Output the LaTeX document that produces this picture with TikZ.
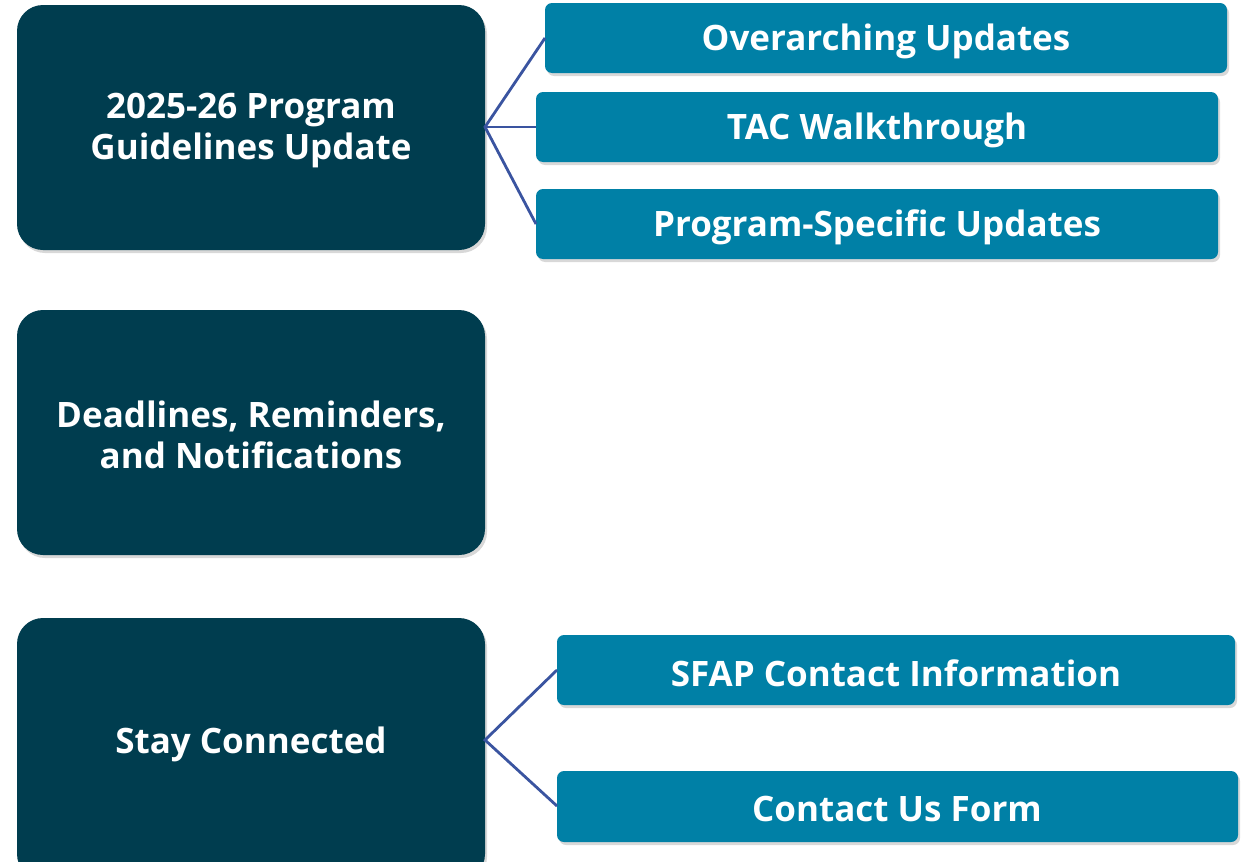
\documentclass[tikz,border=0pt]{standalone}
\usepackage{fontspec}
\setmainfont{Open Sans}
\usetikzlibrary{shadows}
\definecolor{darkbox}{HTML}{003D4F}
\definecolor{lightbox}{HTML}{0080A6}
\definecolor{conn}{HTML}{3A54A0}
\begin{document}
\begin{tikzpicture}[x=1pt,y=-1pt,
  mainbox/.style={fill=darkbox, rounded corners=26pt,
    drop shadow={opacity=0.3, shadow xshift=2pt, shadow yshift=-3pt}},
  subbox/.style={fill=lightbox, rounded corners=7pt,
    drop shadow={opacity=0.3, shadow xshift=2pt, shadow yshift=-3pt}},
  maintext/.style={text=white, font=\bfseries\fontsize{35}{41}\selectfont, align=center},
  subtext/.style={text=white, font=\bfseries\fontsize{35}{41}\selectfont},
  link/.style={draw=conn, line width=2.8pt}]
\useasboundingbox (0,0) rectangle (1245,862);
\fill[white] (0,0) rectangle (1245,862);
% main boxes
\path[mainbox] (17,5) rectangle (485,250);
\node[maintext] (m1) at (251,131) {2025-26 Program\\Guidelines Update};
\coordinate (m1e) at (485,127);
\path[mainbox] (17,310) rectangle (485,555);
\node[maintext] (m2) at (251,435) {Deadlines, Reminders,\\and Notifications};
\path[mainbox] (17,618) rectangle (485,880);
\node[maintext] (m3) at (251,744) {Stay Connected};
\coordinate (m3e) at (485,740);
% sub boxes
\path[subbox] (545,3) rectangle (1227,73);
\node[subtext] (s1) at (886,41) {Overarching Updates};
\coordinate (s1w) at (545,38);
\path[subbox] (536,92) rectangle (1218,162);
\node[subtext] (s2) at (877,130) {TAC Walkthrough};
\coordinate (s2w) at (536,127);
\path[subbox] (536,189) rectangle (1218,259);
\node[subtext] (s3) at (877,227) {Program-Specific Updates};
\coordinate (s3w) at (536,224);
\path[subbox] (557,635) rectangle (1235,705);
\node[subtext] (s4) at (896,673) {SFAP Contact Information};
\coordinate (s4w) at (557,670);
\path[subbox] (557,771) rectangle (1238,842);
\node[subtext] (s5) at (897,809) {Contact Us Form};
\coordinate (s5w) at (557,806);
% connectors
\draw[link] (s1w) -- (m1e) -- (s3w);
\draw[link] (m1e) -- (s2w);
\draw[link] (s4w) -- (m3e) -- (s5w);
\end{tikzpicture}
\end{document}
